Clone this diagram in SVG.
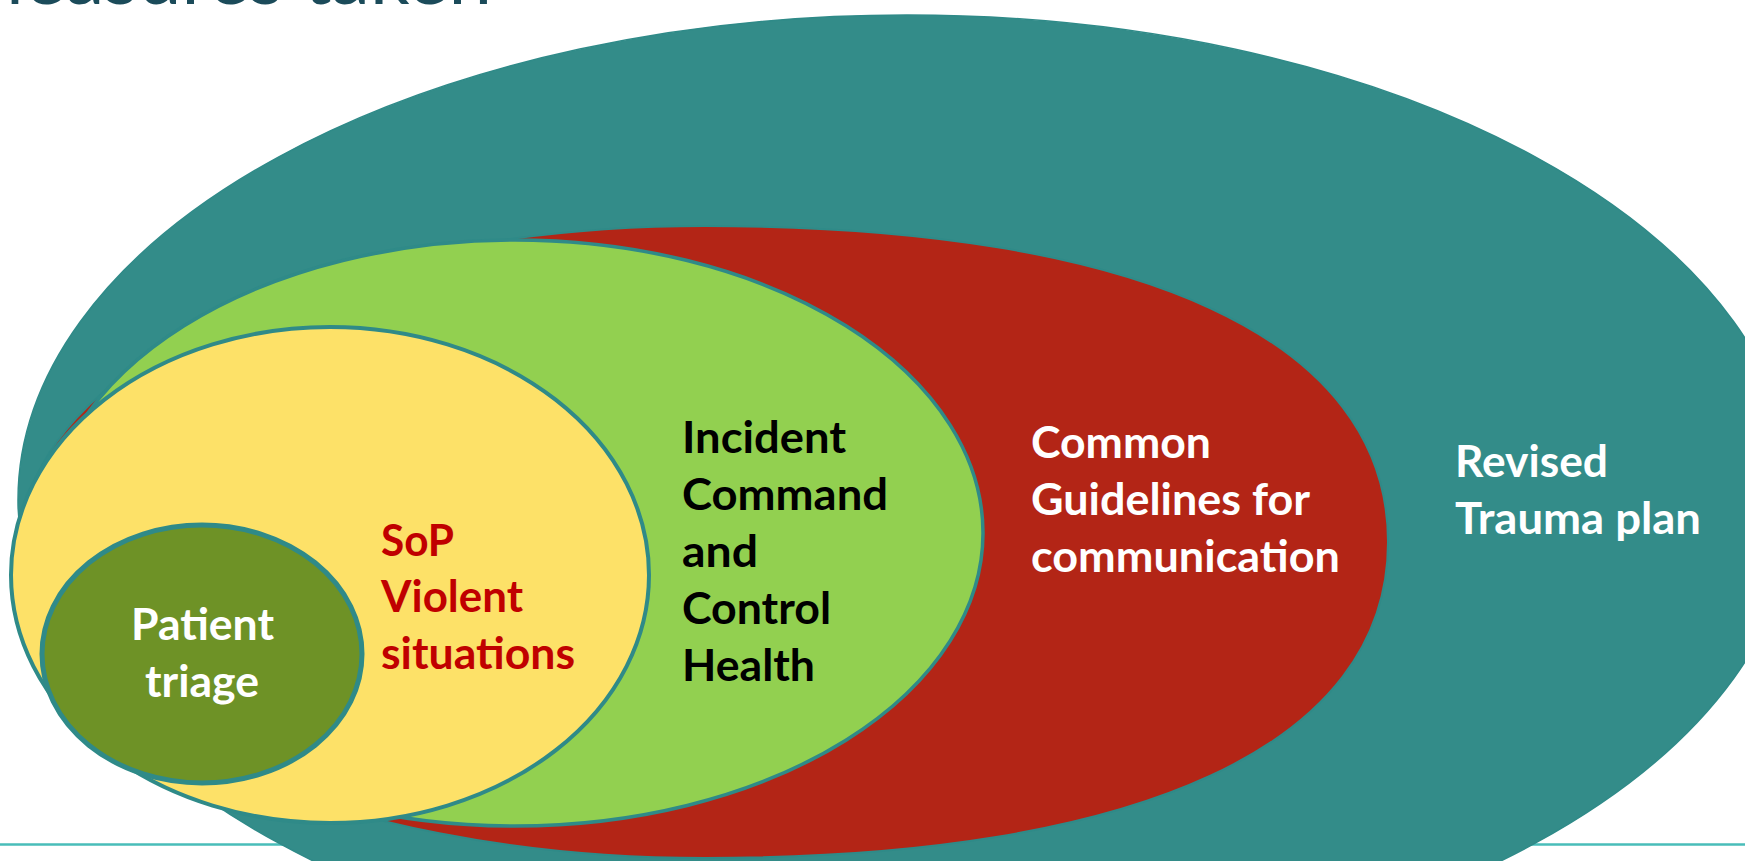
<svg xmlns="http://www.w3.org/2000/svg" width="1745" height="861" viewBox="0 0 1745 861">
<style>
.lbl{font-family:"Lato","Open Sans","Liberation Sans",sans-serif;font-weight:700;font-size:43px}
.w{fill:#ffffff}.k{fill:#000000}.r{fill:#C00000}
.edge{stroke:#2F8A88}
.title{font-family:"Lato","Liberation Sans",sans-serif;font-size:78px;fill:#1B4B5A}
</style>
<rect width="1745" height="861" fill="#ffffff"/>
<line x1="0" y1="844.5" x2="1745" y2="844.5" stroke="#49BDB9" stroke-width="2.6"/>
<text class="title" x="492" y="3.5" text-anchor="end">Measures taken</text>
<g id="revised-trauma-plan">
<ellipse cx="907" cy="500" rx="889" ry="485" fill="#338C89" class="edge" stroke-width="1.5"/>
<text class="lbl w" x="1455" y="477" textLength="153" lengthAdjust="spacingAndGlyphs">Revised</text>
<text class="lbl w" x="1455" y="534" textLength="246" lengthAdjust="spacingAndGlyphs">Trauma plan</text>
</g>
<g id="common-guidelines">
<path d="M1388,542 C1388,744 1142,858 705,858 C328,858 22,717 22,542 C22,367 328,226 705,226 C1142,226 1388,340 1388,542 Z" fill="#B32516" class="edge" stroke-width="2"/>
<text class="lbl w" x="1031" y="458" textLength="180" lengthAdjust="spacingAndGlyphs">Common</text>
<text class="lbl w" x="1031" y="515" textLength="279" lengthAdjust="spacingAndGlyphs">Guidelines for</text>
<text class="lbl w" x="1031" y="572" textLength="309" lengthAdjust="spacingAndGlyphs">communication</text>
</g>
<g id="incident-command">
<ellipse cx="515" cy="533" rx="468" ry="293" fill="#92D050" class="edge" stroke-width="3.5"/>
<text class="lbl k" x="682" y="453" textLength="164" lengthAdjust="spacingAndGlyphs">Incident</text>
<text class="lbl k" x="682" y="510" textLength="206" lengthAdjust="spacingAndGlyphs">Command</text>
<text class="lbl k" x="682" y="567" textLength="76" lengthAdjust="spacingAndGlyphs">and</text>
<text class="lbl k" x="682" y="624" textLength="149" lengthAdjust="spacingAndGlyphs">Control</text>
<text class="lbl k" x="682" y="681" textLength="133" lengthAdjust="spacingAndGlyphs">Health</text>
</g>
<g id="sop-violent">
<ellipse cx="330" cy="575" rx="319" ry="248" fill="#FDE168" class="edge" stroke-width="4"/>
<text class="lbl r" x="381" y="556" textLength="73" lengthAdjust="spacingAndGlyphs">SoP</text>
<text class="lbl r" x="381" y="612" textLength="142" lengthAdjust="spacingAndGlyphs">Violent</text>
<text class="lbl r" x="381" y="669" textLength="194" lengthAdjust="spacingAndGlyphs">situations</text>
</g>
<g id="patient-triage">
<ellipse cx="202" cy="654" rx="160" ry="129" fill="#6E9226" class="edge" stroke-width="5"/>
<text class="lbl w" x="131" y="640" textLength="143" lengthAdjust="spacingAndGlyphs">Patient</text>
<text class="lbl w" x="145" y="697" textLength="114" lengthAdjust="spacingAndGlyphs">triage</text>
</g>
<g id="connectors"></g>
</svg>
